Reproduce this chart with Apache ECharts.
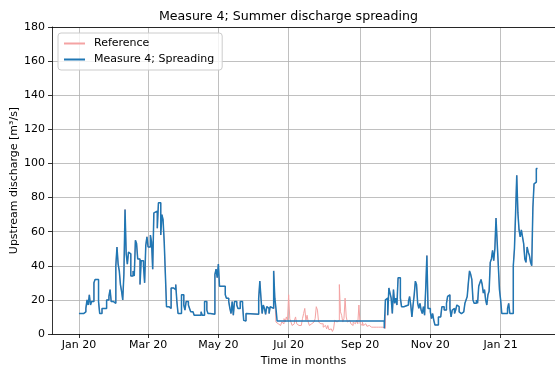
<!DOCTYPE html>
<html><head><meta charset="utf-8">
<script src="https://cdn.jsdelivr.net/npm/echarts@6/dist/echarts.min.js"></script>
<style>html,body{margin:0;padding:0;background:#fff}#chart{width:555px;height:369px}</style>
</head><body><div id="chart"></div>
<script>
// Daily upstream discharge [m3/s]; x = days since startDate
const startDate = '2020-01-01';
const tickDates = ['2020-01-01', '2020-03-01', '2020-05-01', '2020-07-01', '2020-09-01', '2020-11-01', '2021-01-01'];
const tickLabels = ['Jan 20', 'Mar 20', 'May 20', 'Jul 20', 'Sep 20', 'Nov 20', 'Jan 21'];
const seriesNames = ['Reference', 'Measure 4; Spreading'];

// Measure 4 (spreading): [day, discharge], held until the next entry
const spreadFlow = [
  [0,12],[4,13],[6,15],[7,20],[8,17],[9,23],[10,17],[11,19],[13,30],[14,32],[17,19],[18,12],[20,15],[24,20],
  [26,22],[27,26],[28,19],[30,18],[32,40],[33,51],[34,41],[35,37],[36,29],[37,25],[38,20],[39,35],[40,73],
  [41,47],[42,41],[43,48],[44,47],[45,34],[47,37],[48,34],[49,55],[50,53],[51,44],[53,29],[54,43],[56,40],
  [57,30],[58,52],[59,57],[60,51],[62,58],[63,54],[64,38],[65,71],[66,72],[68,62],[69,77],[71,58],[72,70],
  [73,67],[74,54],[75,35],[76,16],[78,15],[80,27],[82,26],[84,29],[85,19],[86,12],[89,23],[91,17],[92,14],
  [93,19],[95,17],[96,15],[97,13],[99,12],[100,11],[106,13],[107,11],[109,19],[111,14],[112,12],[114,11.6],
  [118,35],[119,38],[120,33],[121,41],[122,28],[124,27],[125,28],[127,23],[128,21],[130,19],[131,15],[132,12],
  [133,19],[134,11],[135,19],[137,17],[138,15],[140,19],[142,17],[143,8],[144,7.6],[145,12],[146,11.6],
  [156,21],[157,31],[158,21],[159,12],[160,17],[161,15],[162,11.5],[163,16],[164,15],[165,12],[166,16],
  [167,15],[169,37],[170,21],[171,15],[172,7.6],
  [265,3.3],[266,20],[267,21],[268,11],[269,27],[270,24],[271,21],[272,12],[273,26],[274,18],[275,21],
  [276,17],[277,33],[279,21],[280,16],[282,17],[286,19],[287,22],[288,17],[289,10],[290,17],[291,23],
  [292,31],[293,29],[294,18],[295,15],[296,18],[297,14],[298,12],[299,16],[300,11],[301,27],[302,46],
  [303,15],[305,13],[306,9],[307,12],[308,8],[309,5.3],[312,10],[314,11],[315,16],[317,14],[319,18],
  [320,22],[321,23],[322,15],[323,10],[324,14],[325,15],[326,12],[327,14],[328,17],[329,16],[330,13],
  [331,12],[332,13],[334,14],[335,18],[336,20],[337,22],[338,30],[339,37],[340,35],[341,32],[342,20],
  [343,18],[345,20],[346,18],[347,28],[348,30],[349,32],[350,29],[351,24],[352,26],[353,20],[354,17],
  [355,23],[356,25],[357,42],[358,44],[359,49],[360,43],[361,50],[362,68],[363,54],[364,40],[365,26],
  [366,20],[367,12],[372,15],[373,18],[374,12],[377,40],[378,50],[379,71],[380,93],[381,71],[382,61],
  [383,57],[384,61],[385,57],[386,53],[387,44],[388,42],[389,51],[390,48],[391,46],[392,42],[393,40],
  [394,74],[395,88],[396,89],[397,97],[398,97]
];

// Reference run differs from the measure only during the summer window (one value per day)
const refSummerStart = 171;
const refSummerFlow = [
  7,6,7,5,6,7,6,9,7,10,
  8,23,9,7,5,6,8,10,6,5,
  6,5,6,9,12,15,8,11,7,5,
  6,5,7,6,9,16,14,7,6,5,
  6,4,5,4,3,5,2.5,3,2,1.5,
  3,8,7,6,8,29,13,11,7,9,
  21,10,7,8,7,6,5,7,6,5,
  8,6,17,6,5,7,5,6,5,4.5,
  5,4.5,4,4.5,4,4,4,4,4,4,
  4,4,4,4.3
];

const DAY = 86400000;
const dayOf = s => (Date.parse(s) - Date.parse(startDate)) / DAY;
const tickDays = tickDates.map(dayOf);
const refSummerEnd = refSummerStart + refSummerFlow.length;
const referenceFlow = spreadFlow.filter(p => p[0] < refSummerStart)
  .concat(refSummerFlow.map((v, i) => [refSummerStart + i, v]))
  .concat(spreadFlow.filter(p => p[0] >= refSummerEnd));

const FONT = 'DejaVu Sans';
const X_MIN = -23.4, X_MAX = 413.2;
const gridLine = { show: true, lineStyle: { color: '#b0b0b0', width: 0.8 } };
const spine = { show: true, onZero: false, lineStyle: { color: '#000', width: 0.8 } };

const chart = echarts.init(document.getElementById('chart'), null, { renderer: 'canvas' });
chart.setOption({
  animation: false,
  backgroundColor: '#fff',
  textStyle: { fontFamily: FONT },
  title: {
    text: 'Measure 4; Summer discharge spreading',
    left: 159, top: 10, padding: 0,
    textStyle: { fontFamily: FONT, fontSize: 12.6, fontWeight: 'normal', color: '#000' }
  },
  legend: {
    data: seriesNames,
    orient: 'vertical',
    left: 58, top: 33,
    padding: [5, 8, 5, 5],
    itemWidth: 21, itemHeight: 12, itemGap: 5,
    itemStyle: { opacity: 0 },
    backgroundColor: 'rgba(255,255,255,0.8)',
    borderColor: '#cccccc', borderWidth: 1, borderRadius: 3,
    textStyle: { fontFamily: FONT, fontSize: 11, color: '#000', padding: [0, 0, 0, 4] }
  },
  grid: { left: 52, right: 0, top: 27, bottom: 35, outerBoundsMode: 'none', containLabel: false },
  xAxis: [
    {
      type: 'value',
      min: X_MIN, max: X_MAX,
      name: 'Time in months',
      nameLocation: 'middle', nameGap: 22, nameMoveOverlap: false,
      nameTextStyle: { fontFamily: FONT, fontSize: 11, color: '#000' },
      axisLine: spine,
      axisTick: { show: true, length: 4, lineStyle: { color: '#000', width: 0.8 }, customValues: tickDays },
      axisLabel: {
        customValues: tickDays, margin: 6,
        fontFamily: FONT, fontSize: 11, color: '#000',
        formatter: v => tickLabels[tickDays.indexOf(v)] || ''
      },
      splitLine: gridLine
    },
    {
      // top frame line
      type: 'value', position: 'top',
      min: X_MIN, max: X_MAX,
      axisLine: spine, axisTick: { show: false }, axisLabel: { show: false }, splitLine: { show: false }
    }
  ],
  yAxis: {
    type: 'value',
    min: 0, max: 180, interval: 20,
    name: 'Upstream discharge [m\u00b3/s]',
    nameLocation: 'middle', nameGap: 32, nameMoveOverlap: false,
    nameTextStyle: { fontFamily: FONT, fontSize: 11, color: '#000' },
    axisLine: spine,
    axisTick: { show: true, length: 4, lineStyle: { color: '#000', width: 0.8 } },
    axisLabel: { margin: 7, fontFamily: FONT, fontSize: 11, color: '#000' },
    splitLine: gridLine
  },
  series: [
    {
      name: seriesNames[0], type: 'line', step: 'end',
      data: referenceFlow, showSymbol: false, symbol: 'none',
      lineStyle: { color: '#f4a3a3', width: 1 }, itemStyle: { color: '#f4a3a3' }, z: 2
    },
    {
      name: seriesNames[1], type: 'line', step: 'end',
      data: spreadFlow, showSymbol: false, symbol: 'none',
      lineStyle: { color: '#1f77b4', width: 1.5 }, itemStyle: { color: '#1f77b4' }, z: 3
    }
  ]
});
</script></body></html>
